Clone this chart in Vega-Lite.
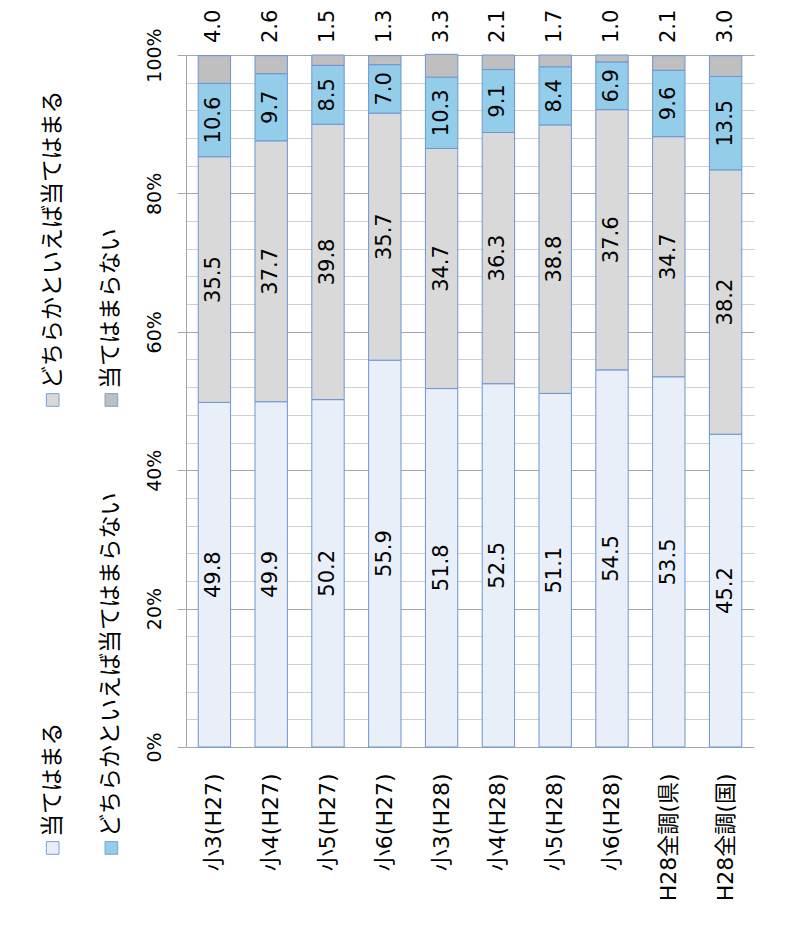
{
  "$schema": "https://vega.github.io/schema/vega-lite/v6.json",
  "padding": {"top": 9, "left": 10, "right": 5, "bottom": 5},
  "background": "white",
  "config": {"view": {"stroke": null}, "concat": {"spacing": 0}, "axisY": {"labelOverlap": false}},
  "bounds": "flush",
  "datasets": {
    "bars": [
      {"category": "小3(H27)", "series": "当てはまる", "order": 1, "value": 49.8},
      {"category": "小3(H27)", "series": "どちらかといえば当てはまる", "order": 2, "value": 35.5},
      {"category": "小3(H27)", "series": "どちらかといえば当てはまらない", "order": 3, "value": 10.6},
      {"category": "小3(H27)", "series": "当てはまらない", "order": 4, "value": 4.0},
      {"category": "小4(H27)", "series": "当てはまる", "order": 1, "value": 49.9},
      {"category": "小4(H27)", "series": "どちらかといえば当てはまる", "order": 2, "value": 37.7},
      {"category": "小4(H27)", "series": "どちらかといえば当てはまらない", "order": 3, "value": 9.7},
      {"category": "小4(H27)", "series": "当てはまらない", "order": 4, "value": 2.6},
      {"category": "小5(H27)", "series": "当てはまる", "order": 1, "value": 50.2},
      {"category": "小5(H27)", "series": "どちらかといえば当てはまる", "order": 2, "value": 39.8},
      {"category": "小5(H27)", "series": "どちらかといえば当てはまらない", "order": 3, "value": 8.5},
      {"category": "小5(H27)", "series": "当てはまらない", "order": 4, "value": 1.5},
      {"category": "小6(H27)", "series": "当てはまる", "order": 1, "value": 55.9},
      {"category": "小6(H27)", "series": "どちらかといえば当てはまる", "order": 2, "value": 35.7},
      {"category": "小6(H27)", "series": "どちらかといえば当てはまらない", "order": 3, "value": 7.0},
      {"category": "小6(H27)", "series": "当てはまらない", "order": 4, "value": 1.3},
      {"category": "小3(H28)", "series": "当てはまる", "order": 1, "value": 51.8},
      {"category": "小3(H28)", "series": "どちらかといえば当てはまる", "order": 2, "value": 34.7},
      {"category": "小3(H28)", "series": "どちらかといえば当てはまらない", "order": 3, "value": 10.3},
      {"category": "小3(H28)", "series": "当てはまらない", "order": 4, "value": 3.3},
      {"category": "小4(H28)", "series": "当てはまる", "order": 1, "value": 52.5},
      {"category": "小4(H28)", "series": "どちらかといえば当てはまる", "order": 2, "value": 36.3},
      {"category": "小4(H28)", "series": "どちらかといえば当てはまらない", "order": 3, "value": 9.1},
      {"category": "小4(H28)", "series": "当てはまらない", "order": 4, "value": 2.1},
      {"category": "小5(H28)", "series": "当てはまる", "order": 1, "value": 51.1},
      {"category": "小5(H28)", "series": "どちらかといえば当てはまる", "order": 2, "value": 38.8},
      {"category": "小5(H28)", "series": "どちらかといえば当てはまらない", "order": 3, "value": 8.4},
      {"category": "小5(H28)", "series": "当てはまらない", "order": 4, "value": 1.7},
      {"category": "小6(H28)", "series": "当てはまる", "order": 1, "value": 54.5},
      {"category": "小6(H28)", "series": "どちらかといえば当てはまる", "order": 2, "value": 37.6},
      {"category": "小6(H28)", "series": "どちらかといえば当てはまらない", "order": 3, "value": 6.9},
      {"category": "小6(H28)", "series": "当てはまらない", "order": 4, "value": 1.0},
      {"category": "H28全調(県)", "series": "当てはまる", "order": 1, "value": 53.5},
      {"category": "H28全調(県)", "series": "どちらかといえば当てはまる", "order": 2, "value": 34.7},
      {"category": "H28全調(県)", "series": "どちらかといえば当てはまらない", "order": 3, "value": 9.6},
      {"category": "H28全調(県)", "series": "当てはまらない", "order": 4, "value": 2.1},
      {"category": "H28全調(国)", "series": "当てはまる", "order": 1, "value": 45.2},
      {"category": "H28全調(国)", "series": "どちらかといえば当てはまる", "order": 2, "value": 38.2},
      {"category": "H28全調(国)", "series": "どちらかといえば当てはまらない", "order": 3, "value": 13.5},
      {"category": "H28全調(国)", "series": "当てはまらない", "order": 4, "value": 3.0}
    ],
    "legend": [
      {"series": "当てはまる", "col": "A", "slot": "lower"},
      {"series": "どちらかといえば当てはまる", "col": "A", "slot": "upper"},
      {"series": "どちらかといえば当てはまらない", "col": "B", "slot": "lower"},
      {"series": "当てはまらない", "col": "B", "slot": "upper"}
    ]
  },
  "hconcat": [
    {
      "width": 176,
      "height": 800,
      "data": {"name": "legend"},
      "encoding": {
        "x": {"field": "col", "type": "nominal", "axis": null,
              "scale": {"type": "point", "domain": ["A", "B"], "padding": 1.372, "align": 0.364}},
        "y": {"field": "slot", "type": "nominal", "axis": null,
              "scale": {"type": "point", "domain": ["upper", "lower"], "padding": 0.3929, "align": 0.98}}
      },
      "layer": [
        {
          "mark": {"type": "point", "shape": "square", "size": 160, "filled": true, "stroke": "#7a9fd6", "strokeWidth": 1, "opacity": 1},
          "encoding": {
            "fill": {"field": "series", "type": "nominal", "legend": null,
                     "scale": {"domain": ["当てはまる", "どちらかといえば当てはまる", "どちらかといえば当てはまらない", "当てはまらない"],
                               "range": ["#e8eff9", "#d9d9d9", "#94cdea", "#bfbfbf"]}}
          }
        },
        {
          "mark": {"type": "text", "angle": 270, "align": "left", "baseline": "middle", "dx": 11,
                   "font": "Noto Sans CJK JP", "fontSize": 23, "color": "#000000"},
          "encoding": {"text": {"field": "series", "type": "nominal"}}
        }
      ]
    },
    {
      "width": 568,
      "height": 692,
      "data": {"name": "bars"},
      "encoding": {
        "x": {"field": "category", "type": "nominal", "sort": null, "title": null,
              "scale": {"paddingInner": 0.43, "paddingOuter": 0.215},
              "axis": {"labelAngle": 270, "ticks": false, "domain": false, "labelPadding": 26,
                       "labelFont": "DejaVu Sans, Noto Sans CJK JP", "labelFontSize": 22, "labelColor": "#000000"}}
      },
      "layer": [
        {
          "mark": {"type": "bar", "stroke": "#6b95d3", "strokeWidth": 1},
          "encoding": {
            "y": {"field": "value", "type": "quantitative", "stack": "zero", "title": null,
                  "scale": {"domain": [0, 100], "nice": false},
                  "axis": {"values": [0, 4, 8, 12, 16, 20, 24, 28, 32, 36, 40, 44, 48, 52, 56, 60, 64, 68, 72, 76, 80, 84, 88, 92, 96, 100],
                           "tickCount": 40,
                           "labelExpr": "datum.value % 20 === 0 ? datum.value + '%' : ''",
                           "labelOverlap": false, "labelSeparation": 0, "labelAngle": 270, "labelAlign": "center", "labelBaseline": "bottom",
                           "labelPadding": 13, "labelFont": "DejaVu Sans", "labelFontSize": 19, "labelColor": "#000000",
                           "tickSize": 9,
                           "tickColor": {"condition": {"test": "datum.value % 20 !== 0", "value": "transparent"}, "value": "#a6a6a6"},
                           "gridColor": {"condition": {"test": "datum.value % 20 !== 0", "value": "#cfcfcf"}, "value": "#a6a6a6"},
                           "domainColor": "#a6a6a6"}},
            "fill": {"field": "series", "type": "nominal", "legend": null,
                     "scale": {"domain": ["当てはまる", "どちらかといえば当てはまる", "どちらかといえば当てはまらない", "当てはまらない"],
                               "range": ["#e8eff9", "#d9d9d9", "#94cdea", "#bfbfbf"]}},
            "order": {"field": "order", "type": "quantitative"}
          }
        },
        {
          "mark": {"type": "text", "angle": 270, "align": "center", "baseline": "middle",
                   "font": "DejaVu Sans", "fontSize": 21, "color": "#000000"},
          "encoding": {
            "y": {"field": "value", "type": "quantitative", "stack": "zero", "bandPosition": 0.5},
            "detail": {"field": "series"},
            "order": {"field": "order", "type": "quantitative"},
            "text": {"condition": {"test": "datum.series !== '当てはまらない'", "field": "value", "type": "quantitative", "format": ".1f"}, "value": ""}
          }
        },
        {
          "transform": [{"filter": "datum.series === '当てはまらない'"}],
          "mark": {"type": "text", "angle": 270, "align": "left", "baseline": "middle", "dx": 12,
                   "font": "DejaVu Sans", "fontSize": 21, "color": "#000000"},
          "encoding": {
            "y": {"datum": 100, "type": "quantitative"},
            "text": {"field": "value", "type": "quantitative", "format": ".1f"}
          }
        }
      ]
    }
  ]
}
